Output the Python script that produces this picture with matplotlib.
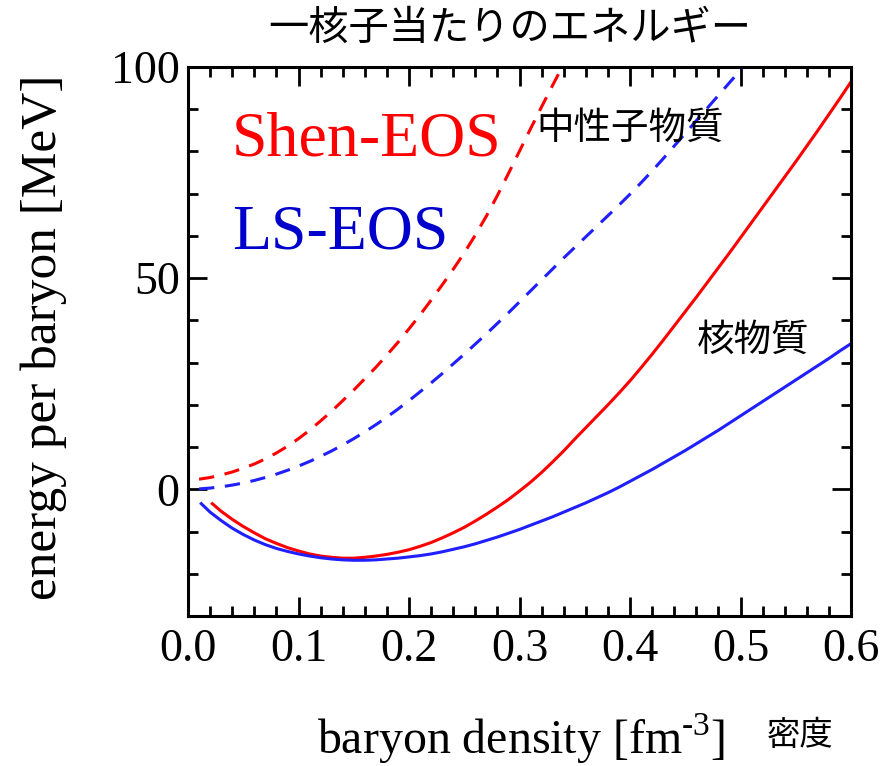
import numpy as np
import matplotlib.pyplot as plt
from matplotlib.ticker import MultipleLocator

# Shen-EOS, symmetric nuclear matter (solid red)
shen_nuc_x = [0.022, 0.03, 0.04, 0.05, 0.06, 0.07, 0.08, 0.09, 0.10, 0.11, 0.12, 0.13, 0.14, 0.15, 0.16,
              0.17, 0.18, 0.19, 0.20, 0.21, 0.22, 0.23, 0.24, 0.25, 0.26, 0.27, 0.28, 0.29, 0.30, 0.31,
              0.32, 0.33, 0.34, 0.35, 0.36, 0.37, 0.38, 0.39, 0.40, 0.41, 0.42, 0.43, 0.44, 0.45, 0.46,
              0.47, 0.48, 0.49, 0.50, 0.51, 0.52, 0.53, 0.54, 0.55, 0.56, 0.57, 0.58, 0.59, 0.60]
shen_nuc_y = [-3.4, -5.2, -7.1, -8.8, -10.3, -11.7, -12.8, -13.8, -14.6, -15.3, -15.8, -16.1, -16.3, -16.3, -16.1,
              -15.8, -15.4, -14.9, -14.3, -13.5, -12.6, -11.5, -10.3, -9.0, -7.5, -5.9, -4.2, -2.4, -0.4, 1.7,
              4.0, 6.5, 9.1, 11.9, 14.6, 17.3, 20.0, 22.8, 25.7, 28.8, 32.0, 35.3, 38.7, 42.1, 45.5,
              49.0, 52.5, 56.0, 59.6, 63.2, 66.8, 70.4, 74.0, 77.6, 81.3, 85.0, 88.8, 92.6, 96.5]

# Shen-EOS, neutron matter (dashed red)
shen_neu_x = [0.01, 0.02, 0.03, 0.04, 0.05, 0.06, 0.07, 0.08, 0.09, 0.10, 0.11, 0.12, 0.13, 0.14, 0.15,
              0.16, 0.17, 0.18, 0.19, 0.20, 0.21, 0.22, 0.23, 0.24, 0.25, 0.26, 0.27, 0.28, 0.29, 0.30,
              0.31, 0.32, 0.33, 0.34, 0.35]
shen_neu_y = [2.4, 2.8, 3.4, 4.1, 5.0, 6.0, 7.2, 8.6, 10.2, 12.0, 14.0, 16.2, 18.5, 21.0, 23.5,
              26.2, 28.9, 31.8, 34.8, 38.0, 41.3, 44.8, 48.4, 52.1, 56.0, 60.2, 64.7, 69.6, 74.8, 80.1,
              85.4, 90.6, 95.7, 100.7, 105.6]

# LS-EOS, symmetric nuclear matter (solid blue)
ls_nuc_x = [0.012, 0.02, 0.03, 0.04, 0.05, 0.06, 0.07, 0.08, 0.09, 0.10, 0.11, 0.12, 0.13, 0.14, 0.15,
            0.16, 0.17, 0.18, 0.19, 0.20, 0.21, 0.22, 0.23, 0.24, 0.25, 0.26, 0.27, 0.28, 0.29, 0.30,
            0.31, 0.32, 0.33, 0.34, 0.35, 0.36, 0.37, 0.38, 0.39, 0.40, 0.41, 0.42, 0.43, 0.44, 0.45,
            0.46, 0.47, 0.48, 0.49, 0.50, 0.51, 0.52, 0.53, 0.54, 0.55, 0.56, 0.57, 0.58, 0.59, 0.60]
ls_nuc_y = [-3.4, -5.4, -7.4, -9.2, -10.7, -12.0, -13.1, -14.0, -14.7, -15.3, -15.8, -16.2, -16.5, -16.7, -16.8,
            -16.8, -16.7, -16.5, -16.3, -16.0, -15.7, -15.3, -14.8, -14.2, -13.6, -12.9, -12.1, -11.3, -10.4, -9.5,
            -8.5, -7.5, -6.5, -5.4, -4.3, -3.2, -2.0, -0.8, 0.5, 1.9, 3.3, 4.7, 6.2, 7.7, 9.2,
            10.8, 12.4, 14.0, 15.7, 17.4, 19.1, 20.8, 22.5, 24.2, 25.9, 27.6, 29.3, 31.0, 32.8, 34.5]

# LS-EOS, neutron matter (dashed blue)
ls_neu_x = [0.01, 0.02, 0.03, 0.04, 0.05, 0.06, 0.07, 0.08, 0.09, 0.10, 0.11, 0.12, 0.13, 0.14, 0.15,
            0.16, 0.17, 0.18, 0.19, 0.20, 0.21, 0.22, 0.23, 0.24, 0.25, 0.26, 0.27, 0.28, 0.29, 0.30,
            0.31, 0.32, 0.33, 0.34, 0.35, 0.36, 0.37, 0.38, 0.39, 0.40, 0.41, 0.42, 0.43, 0.44, 0.45,
            0.46, 0.47, 0.48, 0.49, 0.50, 0.51]
ls_neu_y = [0.1, 0.3, 0.6, 1.0, 1.5, 2.1, 2.8, 3.6, 4.5, 5.5, 6.6, 7.8, 9.1, 10.5, 12.0,
            13.6, 15.3, 17.1, 19.0, 21.0, 23.1, 25.2, 27.4, 29.7, 32.0, 34.4, 36.8, 39.3, 41.8, 44.4,
            47.0, 49.6, 52.2, 54.8, 57.3, 59.8, 62.3, 64.8, 67.3, 69.9, 72.6, 75.4, 78.3, 81.3, 84.3,
            87.3, 90.3, 93.3, 96.3, 99.3, 102.3]

serif = 'Liberation Serif'
cjk = ['Noto Sans CJK JP', 'DejaVu Sans']
plt.rcParams['mathtext.fontset'] = 'custom'
plt.rcParams['mathtext.rm'] = serif

fig = plt.figure(figsize=(8.81, 7.66), dpi=100)
ax = fig.add_axes([0.2134, 0.1958, 0.7526, 0.7167])

red = '#ff0000'
blue = '#1f1fff'
lw = 2.2
ax.plot(shen_nuc_x, shen_nuc_y, color=red, lw=lw)
ax.plot(ls_nuc_x, ls_nuc_y, color=blue, lw=lw)
ax.plot(shen_neu_x, shen_neu_y, color=red, lw=lw, dashes=(5, 3.5))
ax.plot(ls_neu_x, ls_neu_y, color=blue, lw=lw, dashes=(5, 3.5))

ax.set_xlim(0, 0.6)
ax.set_ylim(-30, 100)
ax.xaxis.set_major_locator(MultipleLocator(0.1))
ax.xaxis.set_minor_locator(MultipleLocator(0.02))
ax.yaxis.set_major_locator(MultipleLocator(50))
ax.yaxis.set_minor_locator(MultipleLocator(10))
ax.tick_params(which='both', direction='in', top=True, right=True, width=2)
ax.tick_params(which='major', length=14)
ax.tick_params(which='minor', length=7)
ax.tick_params(axis='x', which='major', pad=9)
ax.tick_params(axis='y', which='major', pad=6)
for s in ax.spines.values():
    s.set_linewidth(2.2)

ax.set_xticklabels([f'{v:.1f}' for v in ax.get_xticks()], fontfamily=serif, fontsize=33)
ax.set_yticklabels([f'{v:.0f}' for v in ax.get_yticks()], fontfamily=serif, fontsize=33)

ax.text(0.066, 0.8397, 'Shen-EOS', transform=ax.transAxes, color=red, fontfamily=serif, fontsize=46,
        va='baseline', ha='left')
ax.text(0.066, 0.670, 'LS-EOS', transform=ax.transAxes, color='#0000cc', fontfamily=serif, fontsize=46,
        va='baseline', ha='left')
ax.text(0.526, 0.889, '中性子物質', transform=ax.transAxes, fontfamily=cjk, fontsize=27, va='center', ha='left')
ax.text(0.768, 0.503, '核物質', transform=ax.transAxes, fontfamily=cjk, fontsize=27, va='center', ha='left')

fig.text(0.579, 0.963, '一核子当たりのエネルギー', fontfamily=cjk, fontsize=29, ha='center', va='center')
fig.text(0.05, 0.56, 'energy per baryon [MeV]', fontfamily=serif, fontsize=37, rotation=90,
         ha='center', va='center')
fig.text(0.592, 0.016, r'baryon density [fm$^{\text{-3}}$]', fontfamily=serif, fontsize=34.5,
         ha='center', va='baseline')
fig.text(0.908, 0.04, '密度', fontfamily=cjk, fontsize=24, ha='center', va='center')

fig.savefig('out.png', dpi=100)
